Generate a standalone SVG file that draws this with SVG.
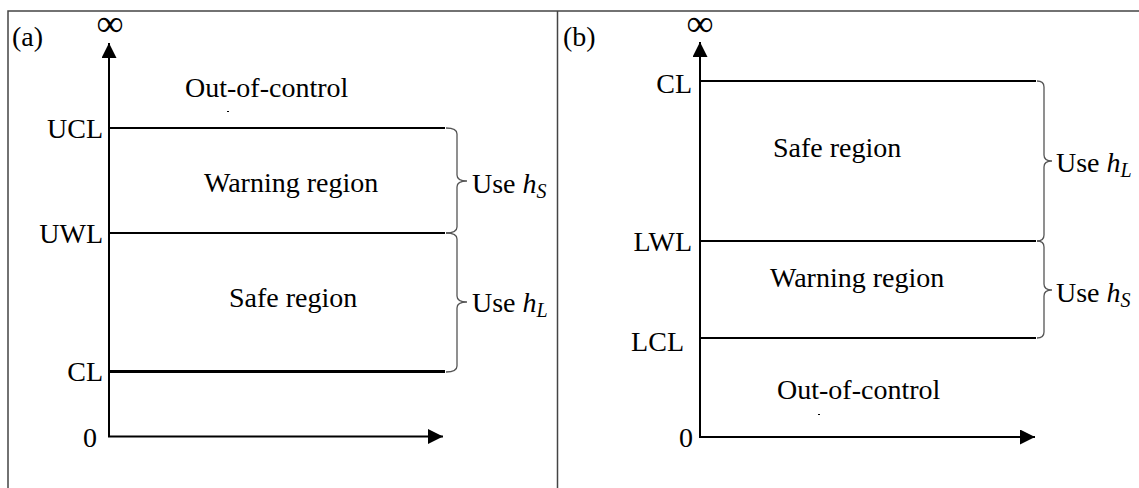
<svg xmlns="http://www.w3.org/2000/svg" width="1139" height="488" viewBox="0 0 1139 488">
<style>
.t{font-family:"Liberation Serif","Times New Roman",serif;font-size:28px;fill:#000}
.inf{font-family:"Liberation Serif","Times New Roman",serif;font-size:38px;fill:#000}
.ax{stroke:#000;stroke-width:2;fill:none}
.ln{stroke:#000;stroke-width:2;fill:none}
.lnb{stroke:#000;stroke-width:3;fill:none}
.br{stroke:#555;stroke-width:1.3;fill:none}
.bd{stroke:#444;stroke-width:1.5;fill:none}
.i{font-style:italic}
</style>
<defs>
<marker id="ah" markerUnits="userSpaceOnUse" markerWidth="16" markerHeight="16" refX="15" refY="7.5" orient="auto">
<path d="M0,0 L15,7.5 L0,15 z" fill="#000"/>
</marker>
</defs>
<g id="frame">
<path class="bd" d="M8,488 V11 H1139"/>
<path class="bd" d="M557.5,11 V488"/>
</g>
<g id="panel-a">
<text class="t" x="12" y="46" font-size="29">(a)</text>
<text class="inf" x="110" y="36" text-anchor="middle">∞</text>
<g id="a-axes">
<path class="ax" d="M109,437 V43" marker-end="url(#ah)"/>
<path class="ax" d="M108,436.5 H443" marker-end="url(#ah)"/>
</g>
<g id="a-lines">
<path class="ln" d="M109,128 H445"/>
<path class="ln" d="M109,233 H445"/>
<path class="lnb" d="M109,371.5 H445"/>
</g>
<g id="a-labels">
<text class="t" x="103" y="138" text-anchor="end">UCL</text>
<text class="t" x="103" y="243" text-anchor="end">UWL</text>
<text class="t" x="103" y="381" text-anchor="end">CL</text>
<text class="t" x="97" y="447" text-anchor="end">0</text>
</g>
<g id="a-regions">
<text class="t" x="185" y="97">Out-of-control</text>
<rect x="227" y="111" width="2" height="1" fill="#000"/>
<text class="t" x="204" y="192">Warning region</text>
<text class="t" x="229" y="307">Safe region</text>
</g>
<g id="a-braces">
<path class="br" d="M446,128 Q457,128 457,134 L457,175 Q457,181 467,181 Q457,181 457,187 L457,227 Q457,233 446,233"/>
<path class="br" d="M446,233 Q457,233 457,239 L457,296 Q457,302 467,302 Q457,302 457,308 L457,366 Q457,372 446,372"/>
<text class="t" x="472" y="193">Use <tspan class="i">h</tspan><tspan class="i" font-size="20" dy="5">S</tspan></text>
<text class="t" x="472" y="312">Use <tspan class="i">h</tspan><tspan class="i" font-size="20" dy="5">L</tspan></text>
</g>
</g>
<g id="panel-b">
<text class="t" x="563" y="46" font-size="29">(b)</text>
<text class="inf" x="700" y="36" text-anchor="middle">∞</text>
<g id="b-axes">
<path class="ax" d="M700,437 V42" marker-end="url(#ah)"/>
<path class="ax" d="M699,437 H1035" marker-end="url(#ah)"/>
</g>
<g id="b-lines">
<path class="ln" d="M700,81 H1036"/>
<path class="ln" d="M700,241 H1036"/>
<path class="ln" d="M700,338 H1036"/>
</g>
<g id="b-labels">
<text class="t" x="692" y="93" text-anchor="end">CL</text>
<text class="t" x="692" y="251" text-anchor="end">LWL</text>
<text class="t" x="684" y="351" text-anchor="end">LCL</text>
<text class="t" x="693" y="447" text-anchor="end">0</text>
</g>
<g id="b-regions">
<text class="t" x="773" y="157">Safe region</text>
<text class="t" x="770" y="287">Warning region</text>
<text class="t" x="777" y="399">Out-of-control</text>
<rect x="818" y="414" width="2" height="1" fill="#000"/>
</g>
<g id="b-braces">
<path class="br" d="M1037,81 Q1044,81 1044,87 L1044,155 Q1044,161 1052,161 Q1044,161 1044,167 L1044,235 Q1044,241 1037,241"/>
<path class="br" d="M1037,241 Q1044,241 1044,247 L1044,284 Q1044,290 1052,290 Q1044,290 1044,296 L1044,332 Q1044,338 1037,338"/>
<text class="t" x="1056" y="172">Use <tspan class="i">h</tspan><tspan class="i" font-size="20" dy="5">L</tspan></text>
<text class="t" x="1056" y="302">Use <tspan class="i">h</tspan><tspan class="i" font-size="20" dy="5">S</tspan></text>
</g>
</g>
</svg>
